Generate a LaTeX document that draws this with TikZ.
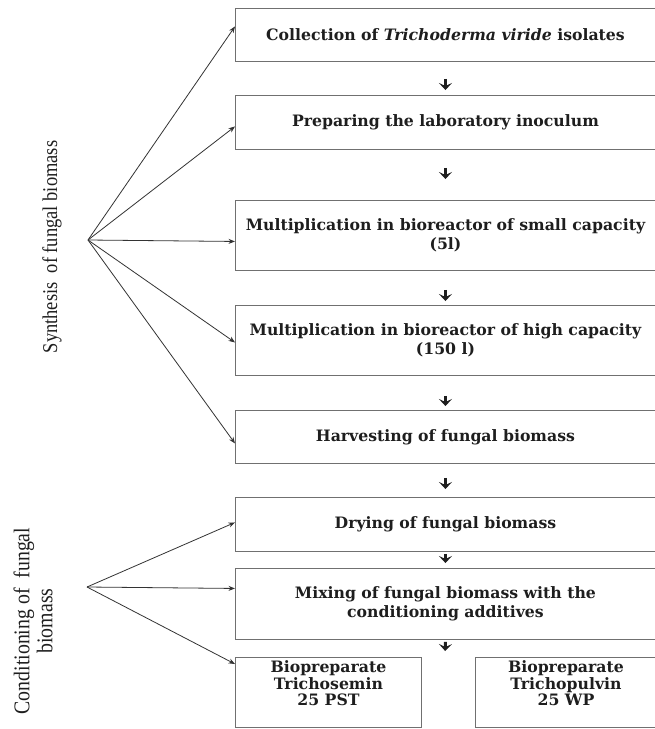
\documentclass[tikz,border=0pt]{standalone}
\usepackage{fontspec}
\setmainfont{DejaVu Serif}
\newfontfamily\lblfont[FakeStretch=0.88]{Liberation Serif}
\usetikzlibrary{arrows.meta,calc}
\definecolor{boxgray}{HTML}{707070}
\definecolor{txt}{HTML}{1E1E1E}
\definecolor{fangray}{HTML}{333333}
\begin{document}
\begin{tikzpicture}[x=1pt,y=-1pt,
  box/.style={draw=boxgray, line width=0.9pt, anchor=north west, inner sep=0pt,
    align=center, text=txt, font=\fontsize{15.7}{18.5}\selectfont\bfseries},
  btext/.style={align=center, text=txt, inner sep=0pt, font=\fontsize{15.7}{16.5}\selectfont\bfseries},
  fan/.style={draw=fangray, line width=0.8pt, -{Stealth[length=6.5pt,width=5pt]}},
  flow/.style={draw=txt, line width=3pt, -{Stealth[length=7pt,width=13pt,inset=3pt]}},
  lbl/.style={rotate=90, text=txt, align=center, inner sep=0pt}]
\useasboundingbox (0,0) rectangle (654,729);
\fill[white] (0,0) rectangle (654,729);

\node[box, minimum width=420pt, minimum height=53pt] (b1) at (235,8)
  {Collection of \textit{Trichoderma viride} isolates};
\node[box, minimum width=420pt, minimum height=54pt] (b2) at (235,95)
  {Preparing the laboratory inoculum};
\node[box, minimum width=420pt, minimum height=70pt] (b3) at (235,200)
  {Multiplication in bioreactor of small capacity\\(5l)};
\node[box, minimum width=420pt, minimum height=70pt] (b4) at (235,305)
  {Multiplication in bioreactor of high capacity\\(150 l)};
\node[box, minimum width=420pt, minimum height=53pt] (b5) at (235,410)
  {Harvesting of fungal biomass};
\node[box, minimum width=420pt, minimum height=54pt] (b6) at (235,497)
  {Drying of fungal biomass};
\node[box, minimum width=420pt, minimum height=71pt] (b7) at (235,568)
  {Mixing of fungal biomass with the\\conditioning additives};
\node[box, minimum width=186pt, minimum height=70pt] (b8) at (235,657) {};
\node[box, minimum width=181pt, minimum height=70pt] (b9) at (475,657) {};
\node[btext] (t8) at ($(b8.north)+(0,26.5)$) {Biopreparate\\Trichosemin\\25 PST};
\node[btext] (t9) at ($(b9.north)+(0,26.5)$) {Biopreparate\\Trichopulvin\\25 WP};
\coordinate (split) at (445,657);

\draw[flow, shorten <=17pt, shorten >=5pt] (b1.south) -- (b2.north);
\draw[flow, shorten <=18pt, shorten >=21pt] (b2.south) -- (b3.north);
\draw[flow, shorten <=19pt, shorten >=4pt] (b3.south) -- (b4.north);
\draw[flow, shorten <=20pt, shorten >=4pt] (b4.south) -- (b5.north);
\draw[flow, shorten <=14pt, shorten >=8pt] (b5.south) -- (b6.north);
\draw[flow, shorten <=2pt, shorten >=5pt] (b6.south) -- (b7.north);
\draw[flow, shorten <=2pt, shorten >=6pt] (b7.south) -- (split);

\coordinate (s) at (88,240);
\coordinate (c) at (87,587);
\draw[fan] (s) -- ([yshift=8.5pt]b1.west);
\draw[fan] (s) -- ([yshift=-4pt]b2.west);
\draw[fan] (s) -- ([yshift=-6pt]b3.west);
\draw[fan] (s) -- ([yshift=-2pt]b4.west);
\draw[fan] (s) -- ([yshift=-6.5pt]b5.west);
\draw[fan] (c) -- ([yshift=2pt]b6.west);
\draw[fan] (c) -- ([yshift=15.5pt]b7.west);
\draw[fan] (c) -- ([yshift=-7pt]b8.north west);

\node[lbl, font=\lblfont\fontsize{21}{24}\selectfont] (syn) at (52,247)
  {Synthesis\ \ of fungal biomass};
\node[lbl, font=\lblfont\fontsize{22.5}{23}\selectfont] (cond) at (33,621)
  {Conditioning of\ \ fungal\\biomass};
\end{tikzpicture}
\end{document}
